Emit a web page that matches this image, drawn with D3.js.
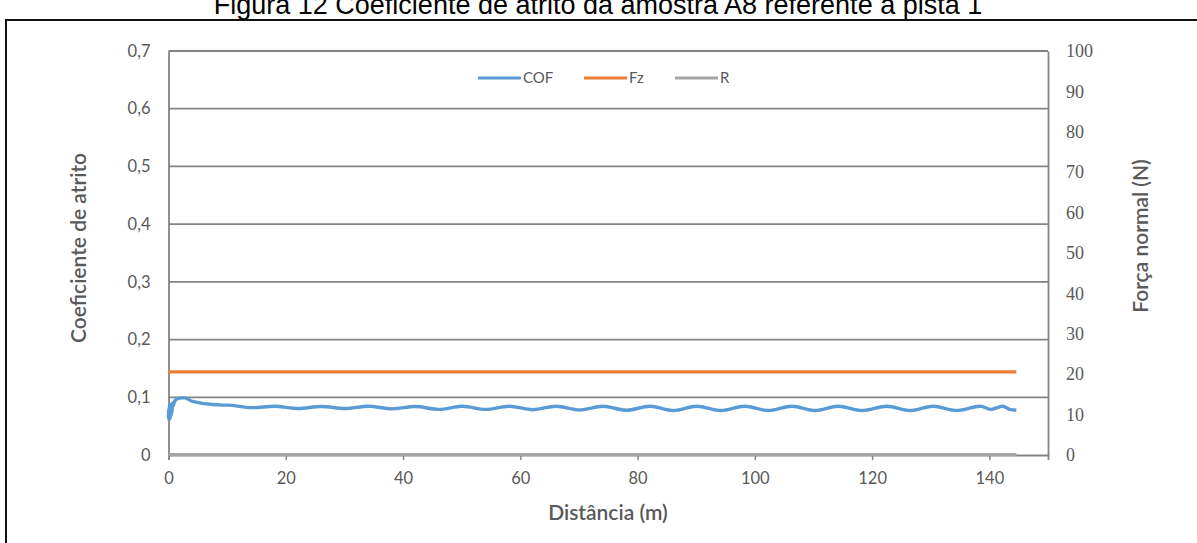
<!DOCTYPE html>
<html>
<head>
<meta charset="utf-8">
<script src="https://cdn.jsdelivr.net/npm/d3@7"></script>
<style>
  html, body { margin: 0; padding: 0; background: #fff; }
  svg { display: block; }
</style>
</head>
<body>
<svg id="chart" width="1197" height="543"></svg>
<script>
// Coefficient of friction (left axis) against sliding distance
const cofDist = [
  0, 0.05, 0.1, 0.15, 0.2, 0.25, 0.3, 0.35, 0.4, 0.45, 0.5, 0.55, 0.6, 0.7, 0.8,
  1.0, 1.3, 1.7, 2.2, 2.8, 3.3, 3.8, 4.5, 5.5, 6.5, 7.5, 8.5, 9.3,
  10.1, 14.1, 18.1, 22.1, 26.1, 30.1, 34.1, 38.1, 42.1, 46.1, 50.1, 54.1,
  58.1, 62.1, 66.1, 70.1, 74.1, 78.1, 82.1, 86.1, 90.1, 94.2, 98.3, 102.3,
  106.3, 110.3, 114.2, 118.3, 122.5, 126.5, 130.4, 134.4, 138.5, 140.2, 142.3, 143.6, 144.6
];
const cofValue = [
  0.064, 0.080, 0.060, 0.084, 0.062, 0.086, 0.064, 0.087, 0.068, 0.088, 0.070, 0.089, 0.074, 0.090, 0.085,
  0.092, 0.096, 0.098, 0.099, 0.099, 0.097, 0.094, 0.092, 0.090, 0.0885, 0.0875, 0.087, 0.0865,
  0.0865, 0.0820, 0.0845, 0.0805, 0.0840, 0.0805, 0.0845, 0.0800, 0.0840, 0.0790, 0.0845, 0.0790,
  0.0845, 0.0785, 0.0845, 0.0780, 0.0845, 0.0775, 0.0845, 0.0770, 0.0845, 0.0770, 0.0845, 0.0770,
  0.0845, 0.0770, 0.0845, 0.0770, 0.0845, 0.0770, 0.0845, 0.0770, 0.0845, 0.0790, 0.0845, 0.0785, 0.0775
];

// Normal force Fz (right axis, N) and R (left axis)
const fzDist = [0, 144.6];
const fzValue = [20.6, 20.6];
const rDist = [0, 144.6];
const rValue = [0.001, 0.001];

// Axis ticks
const xTicks = [0, 20, 40, 60, 80, 100, 120, 140];
const yLeftTicks = [0, 0.1, 0.2, 0.3, 0.4, 0.5, 0.6, 0.7];
const yRightTicks = [0, 10, 20, 30, 40, 50, 60, 70, 80, 90, 100];

const seriesNames = ["COF", "Fz", "R"];
const seriesColors = ["#5b9bd5", "#ed7d31", "#a5a5a5"];

const svg = d3.select("#chart");
const plot = { left: 168.5, right: 1048, top: 51, bottom: 455 };

const x = d3.scaleLinear().domain([0, 150]).range([plot.left, plot.right]);
const yL = d3.scaleLinear().domain([0, 0.7]).range([plot.bottom, plot.top]);
const yR = d3.scaleLinear().domain([0, 100]).range([plot.bottom, plot.top]);

const textColor = "#595959";
const gridColor = "#848484";
const sans = "Lato, 'Open Sans', sans-serif";

// Page title and frame
svg.append("text")
  .attr("x", 598).attr("y", 14)
  .attr("text-anchor", "middle")
  .attr("font-family", "'Liberation Sans', Arial, sans-serif")
  .attr("font-size", 27)
  .attr("fill", "#000")
  .text("Figura 12 Coeficiente de atrito da amostra A8 referente à pista 1");

svg.append("path")
  .attr("d", "M6,560 L6,20 L1210,20")
  .attr("fill", "none")
  .attr("stroke", "#111")
  .attr("stroke-width", 2);

// Horizontal gridlines
svg.append("g")
  .selectAll("line")
  .data(yLeftTicks.filter(d => d > 0))
  .join("line")
  .attr("x1", plot.left).attr("x2", plot.right)
  .attr("y1", d => yL(d)).attr("y2", d => yL(d))
  .attr("stroke", gridColor)
  .attr("stroke-width", 1.8);

// Left axis
const gL = svg.append("g")
  .attr("transform", `translate(${plot.left},0)`)
  .call(d3.axisLeft(yL).tickValues(yLeftTicks).tickSize(0).tickPadding(18)
    .tickFormat(d => d === 0 ? "0" : d3.format(".1f")(d).replace(".", ",")));
gL.select(".domain").attr("stroke", gridColor).attr("stroke-width", 1.8);
gL.selectAll("text").attr("font-family", sans).attr("font-size", 16.5).attr("fill", textColor);

// Right axis
const gR = svg.append("g")
  .attr("transform", `translate(${plot.right},0)`)
  .call(d3.axisRight(yR).tickValues(yRightTicks).tickSize(0).tickPadding(18)
    .tickFormat(d3.format("d")));
gR.select(".domain").attr("stroke", gridColor).attr("stroke-width", 1.8);
gR.selectAll("text").attr("font-family", "'Liberation Serif', 'DejaVu Serif', serif")
  .attr("font-size", 18).attr("fill", textColor);

// Bottom axis
const gX = svg.append("g")
  .attr("transform", `translate(0,${plot.bottom})`)
  .call(d3.axisBottom(x).tickValues(xTicks).tickSize(5).tickPadding(12)
    .tickFormat(d3.format("d")));
gX.select(".domain").attr("stroke", gridColor).attr("stroke-width", 1.8);
gX.selectAll(".tick line").attr("stroke", gridColor).attr("stroke-width", 1.5);
gX.selectAll("text").attr("font-family", sans).attr("font-size", 16.5).attr("fill", textColor);

// Axis titles
svg.append("text")
  .attr("transform", "translate(79,248) rotate(-90)")
  .attr("text-anchor", "middle")
  .attr("dy", "0.35em")
  .attr("font-family", sans).attr("font-size", 21).attr("font-weight", 600)
  .attr("fill", textColor)
  .text("Coeficiente de atrito");

svg.append("text")
  .attr("transform", "translate(1141,236) rotate(-90)")
  .attr("text-anchor", "middle")
  .attr("dy", "0.35em")
  .attr("font-family", sans).attr("font-size", 21).attr("font-weight", 600)
  .attr("fill", textColor)
  .text("Força normal (N)");

svg.append("text")
  .attr("x", 608).attr("y", 513)
  .attr("text-anchor", "middle")
  .attr("dy", "0.35em")
  .attr("font-family", sans).attr("font-size", 21).attr("font-weight", 600)
  .attr("fill", textColor)
  .text("Distância (m)");

// Series lines
const lineL = d3.line().x(d => x(d[0])).y(d => yL(d[1]));
const lineR = d3.line().x(d => x(d[0])).y(d => yR(d[1]));

svg.append("path")
  .datum(rDist.map((d, i) => [d, rValue[i]]))
  .attr("d", lineL)
  .attr("fill", "none")
  .attr("stroke", seriesColors[2])
  .attr("stroke-width", 3);

svg.append("path")
  .datum(fzDist.map((d, i) => [d, fzValue[i]]))
  .attr("d", lineR)
  .attr("fill", "none")
  .attr("stroke", seriesColors[1])
  .attr("stroke-width", 3.2);

svg.append("path")
  .datum(cofDist.map((d, i) => [d, cofValue[i]]))
  .attr("d", lineL.curve(d3.curveMonotoneX))
  .attr("fill", "none")
  .attr("stroke", seriesColors[0])
  .attr("stroke-width", 3.4)
  .attr("stroke-linejoin", "round");

// Legend
const legendX = [478, 584, 675];
const legend = svg.append("g");
seriesNames.forEach((name, i) => {
  legend.append("line")
    .attr("x1", legendX[i]).attr("x2", legendX[i] + 43)
    .attr("y1", 78).attr("y2", 78)
    .attr("stroke", seriesColors[i]).attr("stroke-width", 3.2);
  legend.append("text")
    .attr("x", legendX[i] + 45).attr("y", 78)
    .attr("dy", "0.35em")
    .attr("font-family", sans).attr("font-size", 15)
    .attr("fill", textColor)
    .text(name);
});
</script>
</body>
</html>
